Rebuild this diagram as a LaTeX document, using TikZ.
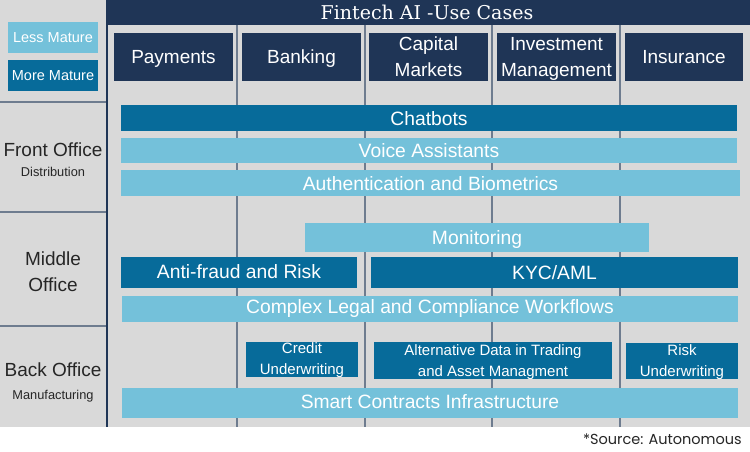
\documentclass[tikz,border=0pt]{standalone}
\usepackage{fontspec}
\setmainfont{Liberation Sans}
\newfontfamily\titlefont{DejaVu Serif}
\newfontfamily\srcfont{Poppins}
\definecolor{navy}{HTML}{1F3556}
\definecolor{darkbar}{HTML}{076B9A}
\definecolor{lightbar}{HTML}{74C1DA}
\definecolor{bggray}{HTML}{D9D9D9}
\definecolor{divider}{HTML}{6E7C8F}
\definecolor{labeltext}{HTML}{262626}
\begin{document}
\begin{tikzpicture}[x=1pt,y=-1pt,
  bar/.style={rectangle, inner sep=0pt, text=white, align=center, text height=14pt, text depth=0pt, font=\fontsize{19.3}{23}\selectfont},
  dbar/.style={bar, fill=darkbar},
  lbar/.style={bar, fill=lightbar},
  smallbar/.style={rectangle, inner sep=0pt, text=white, align=center, fill=darkbar, font=\fontsize{15}{21}\selectfont},
  head/.style={rectangle, inner sep=0pt, fill=navy, text=white, align=center, minimum height=48pt, font=\fontsize{19}{26.5}\selectfont},
  legend/.style={rectangle, inner sep=0pt, text=white, minimum width=90pt, minimum height=31pt, font=\fontsize{14.5}{17}\selectfont},
  rowlabel/.style={text=labeltext, align=center, inner sep=0pt, font=\fontsize{19}{26.5}\selectfont},
  sublabel/.style={text=labeltext, inner sep=0pt, font=\fontsize{12.8}{15}\selectfont},
  divline/.style={draw=divider, line width=2pt},
]
\useasboundingbox (0,0) rectangle (750,452);
\fill[white] (0,0) rectangle (750,452);
\fill[bggray] (0,0) rectangle (750,427);
% title bar
\fill[navy] (108,0) rectangle (750,25);
\node[text=white, inner sep=0pt, font=\titlefont\fontsize{19}{22}\selectfont] (title) at (427,12) {Fintech AI -Use Cases};
% vertical dividers
\foreach \xx in {237,365,492,620} \draw[divline] (\xx,25) -- (\xx,427);
% left column separators
\foreach \yy in {102,212,326} \draw[divline] (0,\yy) -- (107,\yy);
\draw[navy, line width=2.5pt] (107,0) -- (107,427);
% legend
\node[legend, fill=lightbar] (less) at (53,37.5) {Less Mature};
\node[legend, fill=darkbar] (more) at (53,75.5) {More Mature};
% headers
\node[head, minimum width=119pt, text height=14pt, text depth=0pt] (pay) at (173.5,57) {Payments};
\node[head, minimum width=119pt, text height=14pt, text depth=0pt] (bank) at (301.5,57) {Banking};
\node[head, minimum width=119pt, text height=40pt, text depth=0pt] (cap) at (428.5,57) {Capital\\Markets};
\node[head, minimum width=119pt, text height=40pt, text depth=0pt] (inv) at (556.5,57) {Investment\\Management};
\node[head, minimum width=118pt, text height=14pt, text depth=0pt] (ins) at (684,57) {Insurance};
% row labels
\node[rowlabel] (front) at (53,150) {Front Office};
\node[sublabel] (dist) at (53,172) {Distribution};
\node[rowlabel] (middle) at (53,271.5) {Middle\\Office};
\node[rowlabel] (back) at (53,370) {Back Office};
\node[sublabel] (manu) at (53,396) {Manufacturing};
% front office bars
\node[dbar, minimum width=616pt, minimum height=26pt] (chat) at (429,118) {Chatbots};
\node[lbar, minimum width=616pt, minimum height=25pt] (voice) at (429,150.5) {Voice Assistants};
\node[lbar, minimum width=619pt, minimum height=26pt] (auth) at (430.5,183) {Authentication and Biometrics};
% middle office bars
\node[lbar, minimum width=344pt, minimum height=29pt, text depth=1pt] (mon) at (477,237.5) {Monitoring};
\node[dbar, minimum width=236pt, minimum height=31pt, text depth=3pt] (fraud) at (239,272.5) {Anti-fraud and Risk};
\node[dbar, minimum width=367pt, minimum height=31pt] (kyc) at (554.5,272.5) {KYC/AML};
\node[lbar, minimum width=616pt, minimum height=26pt, text depth=5pt] (legal) at (430,309) {Complex Legal and Compliance Workflows};
% back office bars
\node[smallbar, minimum width=112pt, minimum height=35pt, text height=29pt, text depth=0pt] (credit) at (302,359.5) {Credit\\Underwriting};
\node[smallbar, minimum width=238pt, minimum height=37pt, text height=31pt, text depth=0pt] (alt) at (493,360.5) {Alternative Data in Trading\\and Asset Managment};
\node[smallbar, minimum width=112pt, minimum height=36pt, text height=30pt, text depth=0pt] (risk) at (682,361) {Risk\\Underwriting};
\node[lbar, minimum width=616pt, minimum height=30pt, text depth=4pt] (smart) at (430,403) {Smart Contracts Infrastructure};
% source
\node[anchor=east, inner sep=0pt, text=labeltext, font=\srcfont\fontsize{14.5}{17}\selectfont] (src) at (742,439) {*Source: Autonomous};
\end{tikzpicture}
\end{document}
